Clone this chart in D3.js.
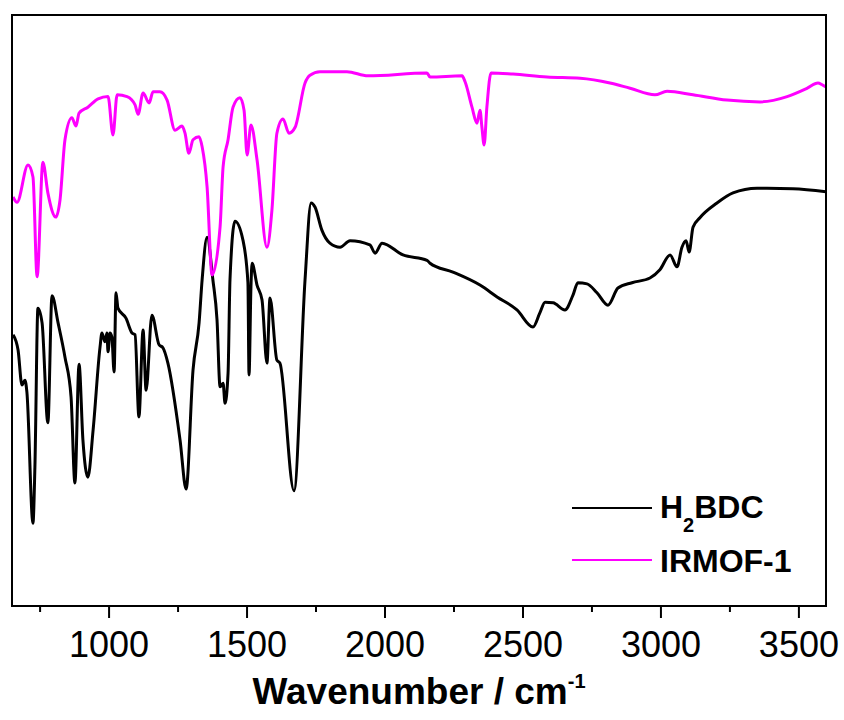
<!DOCTYPE html>
<html>
<head>
<meta charset="utf-8">
<script src="https://cdn.jsdelivr.net/npm/d3@7"></script>
<style>
  body { margin: 0; background: #fff; }
  text { font-family: "Liberation Sans", Arial, sans-serif; fill: #000; }
</style>
</head>
<body>
<div class="chart"></div>
<script>
// FTIR spectra
// each point: [wavenumber (cm-1), transmittance (a.u.)]
var h2bdc = [
  [654, 45.9], [672, 43.3], [686, 37.4], [697, 38.2], [704, 36.2], [726, 14.0],
  [733, 23.5], [744, 50.4], [759, 47.9], [780, 31.0], [795, 52.5], [817, 47.9],
  [842, 42.1], [864, 35.4], [878, 20.8], [893, 40.9], [907, 28.1], [925, 21.8],
  [944, 29.8], [969, 43.8], [976, 46.2], [987, 44.7], [994, 46.2], [998, 43.0],
  [1005, 46.2], [1012, 45.5], [1020, 39.6], [1027, 53.0], [1034, 50.4], [1063, 48.7],
  [1085, 46.2], [1096, 45.9], [1110, 32.0], [1125, 46.7], [1136, 36.5], [1157, 49.2],
  [1183, 44.2], [1197, 43.7], [1215, 41.1], [1259, 28.1], [1281, 19.8], [1306, 39.9],
  [1328, 47.9], [1339, 55.2], [1357, 62.4], [1378, 55.2], [1393, 48.4], [1404, 37.1],
  [1415, 37.7], [1422, 34.3], [1433, 39.4], [1440, 55.2], [1458, 65.1], [1487, 61.9],
  [1505, 54.7], [1509, 39.1], [1516, 54.0], [1520, 58.0], [1538, 54.3], [1556, 51.8],
  [1574, 41.1], [1585, 52.1], [1610, 41.6], [1621, 41.1], [1672, 19.5], [1712, 55.2],
  [1734, 68.2], [1748, 67.5], [1773, 63.6], [1802, 61.4], [1839, 60.7], [1875, 61.8],
  [1947, 61.1], [1966, 59.7], [1991, 61.4], [2067, 59.4], [2154, 58.5], [2165, 58.0],
  [2248, 56.5], [2346, 54.3], [2408, 52.3], [2480, 50.1], [2538, 47.2], [2563, 49.6],
  [2582, 51.4], [2611, 51.3], [2654, 50.1], [2683, 52.6], [2701, 54.7], [2734, 54.5],
  [2770, 53.0], [2810, 50.9], [2846, 53.8], [2897, 54.7], [2962, 55.5], [2998, 56.9],
  [3035, 59.4], [3060, 57.4], [3078, 60.7], [3093, 61.8], [3104, 59.9], [3118, 64.1],
  [3143, 65.7], [3205, 68.2], [3263, 69.9], [3350, 70.7], [3386, 70.7], [3480, 70.6],
  [3600, 70.1]
];

var irmof1 = [
  [654, 69.2], [668, 68.3], [708, 74.6], [726, 72.6], [741, 55.7], [762, 75.1],
  [780, 69.9], [809, 65.8], [824, 68.7], [842, 78.9], [867, 82.6], [882, 81.2],
  [893, 83.4], [925, 84.4], [962, 85.8], [998, 86.2], [1016, 79.7], [1031, 86.5],
  [1067, 86.2], [1096, 84.8], [1107, 83.2], [1125, 86.8], [1147, 85.1], [1161, 87.0],
  [1186, 87.0], [1212, 85.6], [1241, 80.5], [1266, 81.2], [1277, 80.0], [1291, 76.6],
  [1306, 78.9], [1328, 79.4], [1339, 77.7], [1357, 70.9], [1375, 56.0], [1404, 64.1],
  [1415, 74.3], [1433, 78.9], [1451, 84.4], [1476, 86.0], [1491, 83.9], [1502, 76.3],
  [1516, 81.4], [1538, 75.5], [1574, 60.7], [1592, 67.0], [1610, 80.0], [1632, 82.4],
  [1654, 80.0], [1676, 81.0], [1712, 88.5], [1730, 89.8], [1766, 90.4], [1864, 90.4],
  [1940, 89.7], [2154, 90.2], [2165, 89.5], [2281, 89.7], [2292, 88.7], [2317, 84.4],
  [2335, 81.7], [2346, 83.9], [2353, 81.0], [2361, 78.0], [2371, 84.4], [2386, 90.2],
  [2466, 90.0], [2589, 89.5], [2709, 89.3], [2817, 88.5], [2890, 87.6], [2980, 86.5],
  [3024, 87.1], [3118, 86.5], [3241, 85.6], [3361, 85.3], [3459, 86.2], [3531, 87.6],
  [3571, 88.5], [3586, 88.2], [3600, 87.8]
];

var majorTicks = [1000, 1500, 2000, 2500, 3000, 3500];
var minorTicks = [750, 1250, 1750, 2250, 2750, 3250];
var seriesColors = ["#000000", "#ff00ff"];

// svg container
var svgWidth = 844;
var svgHeight = 720;

var margin = { top: 15, right: 18, bottom: 114, left: 12 };

var chartWidth = svgWidth - margin.left - margin.right;
var chartHeight = svgHeight - margin.top - margin.bottom;

var svg = d3.select(".chart")
  .append("svg")
  .attr("width", svgWidth)
  .attr("height", svgHeight);

var chartGroup = svg.append("g")
  .attr("transform", `translate(${margin.left}, ${margin.top})`);

// scales
var xScale = d3.scaleLinear()
  .domain([650, 3600])
  .range([0, chartWidth]);

var yScale = d3.scaleLinear()
  .domain([0, 100])
  .range([chartHeight, 0]);

// clip so the traces stay in the frame
chartGroup.append("clipPath")
  .attr("id", "plotClip")
  .append("rect")
  .attr("width", chartWidth)
  .attr("height", chartHeight);

// minor ticks
chartGroup.append("g")
  .attr("transform", `translate(0, ${chartHeight})`)
  .call(d3.axisBottom(xScale).tickValues(minorTicks).tickSize(6).tickFormat(""))
  .call(g => g.select(".domain").remove())
  .call(g => g.selectAll("line").attr("stroke-width", 2));

// major ticks + labels
var bottomAxis = d3.axisBottom(xScale)
  .tickValues(majorTicks)
  .tickSize(12)
  .tickPadding(13)
  .tickFormat(d3.format("d"));

chartGroup.append("g")
  .attr("transform", `translate(0, ${chartHeight})`)
  .call(bottomAxis)
  .call(g => g.select(".domain").remove())
  .call(g => g.selectAll("line").attr("stroke-width", 2))
  .call(g => g.selectAll("text")
    .attr("font-size", "36px")
    .attr("font-family", "'Liberation Sans', Arial, sans-serif")
    .attr("fill", "#000"));

// spectra
var line = d3.line()
  .x(d => xScale(d[0]))
  .y(d => yScale(d[1]))
  .curve(d3.curveMonotoneX);

var traces = chartGroup.append("g").attr("clip-path", "url(#plotClip)");

traces.append("path")
  .datum(h2bdc)
  .attr("fill", "none")
  .attr("stroke", seriesColors[0])
  .attr("stroke-width", 3)
  .attr("stroke-linejoin", "round")
  .attr("d", line);

traces.append("path")
  .datum(irmof1)
  .attr("fill", "none")
  .attr("stroke", seriesColors[1])
  .attr("stroke-width", 3)
  .attr("stroke-linejoin", "round")
  .attr("d", line);

// frame
chartGroup.append("rect")
  .attr("width", chartWidth)
  .attr("height", chartHeight)
  .attr("fill", "none")
  .attr("stroke", "#000")
  .attr("stroke-width", 2);

// legend
var legend = chartGroup.append("g").attr("transform", "translate(560, 493)");

legend.append("line")
  .attr("x1", 0).attr("x2", 80).attr("y1", 0).attr("y2", 0)
  .attr("stroke", seriesColors[0]).attr("stroke-width", 2);

var t1 = legend.append("text")
  .attr("x", 88).attr("y", 10)
  .attr("font-size", "32px").attr("font-weight", "bold");
t1.append("tspan").text("H");
t1.append("tspan").attr("font-size", "20px").attr("dy", 14).text("2");
t1.append("tspan").attr("dy", -14).text("BDC");

legend.append("line")
  .attr("x1", 0).attr("x2", 80).attr("y1", 52).attr("y2", 52)
  .attr("stroke", seriesColors[1]).attr("stroke-width", 2);

legend.append("text")
  .attr("x", 88).attr("y", 64)
  .attr("font-size", "32px").attr("font-weight", "bold")
  .text("IRMOF-1");

// axis title
var title = chartGroup.append("text")
  .attr("x", chartWidth / 2)
  .attr("y", chartHeight + 98)
  .attr("text-anchor", "middle")
  .attr("font-size", "37px")
  .attr("font-weight", "bold");
title.append("tspan").text("Wavenumber / cm");
title.append("tspan").attr("font-size", "20px").attr("dy", -16).text("-1");
</script>
</body>
</html>
